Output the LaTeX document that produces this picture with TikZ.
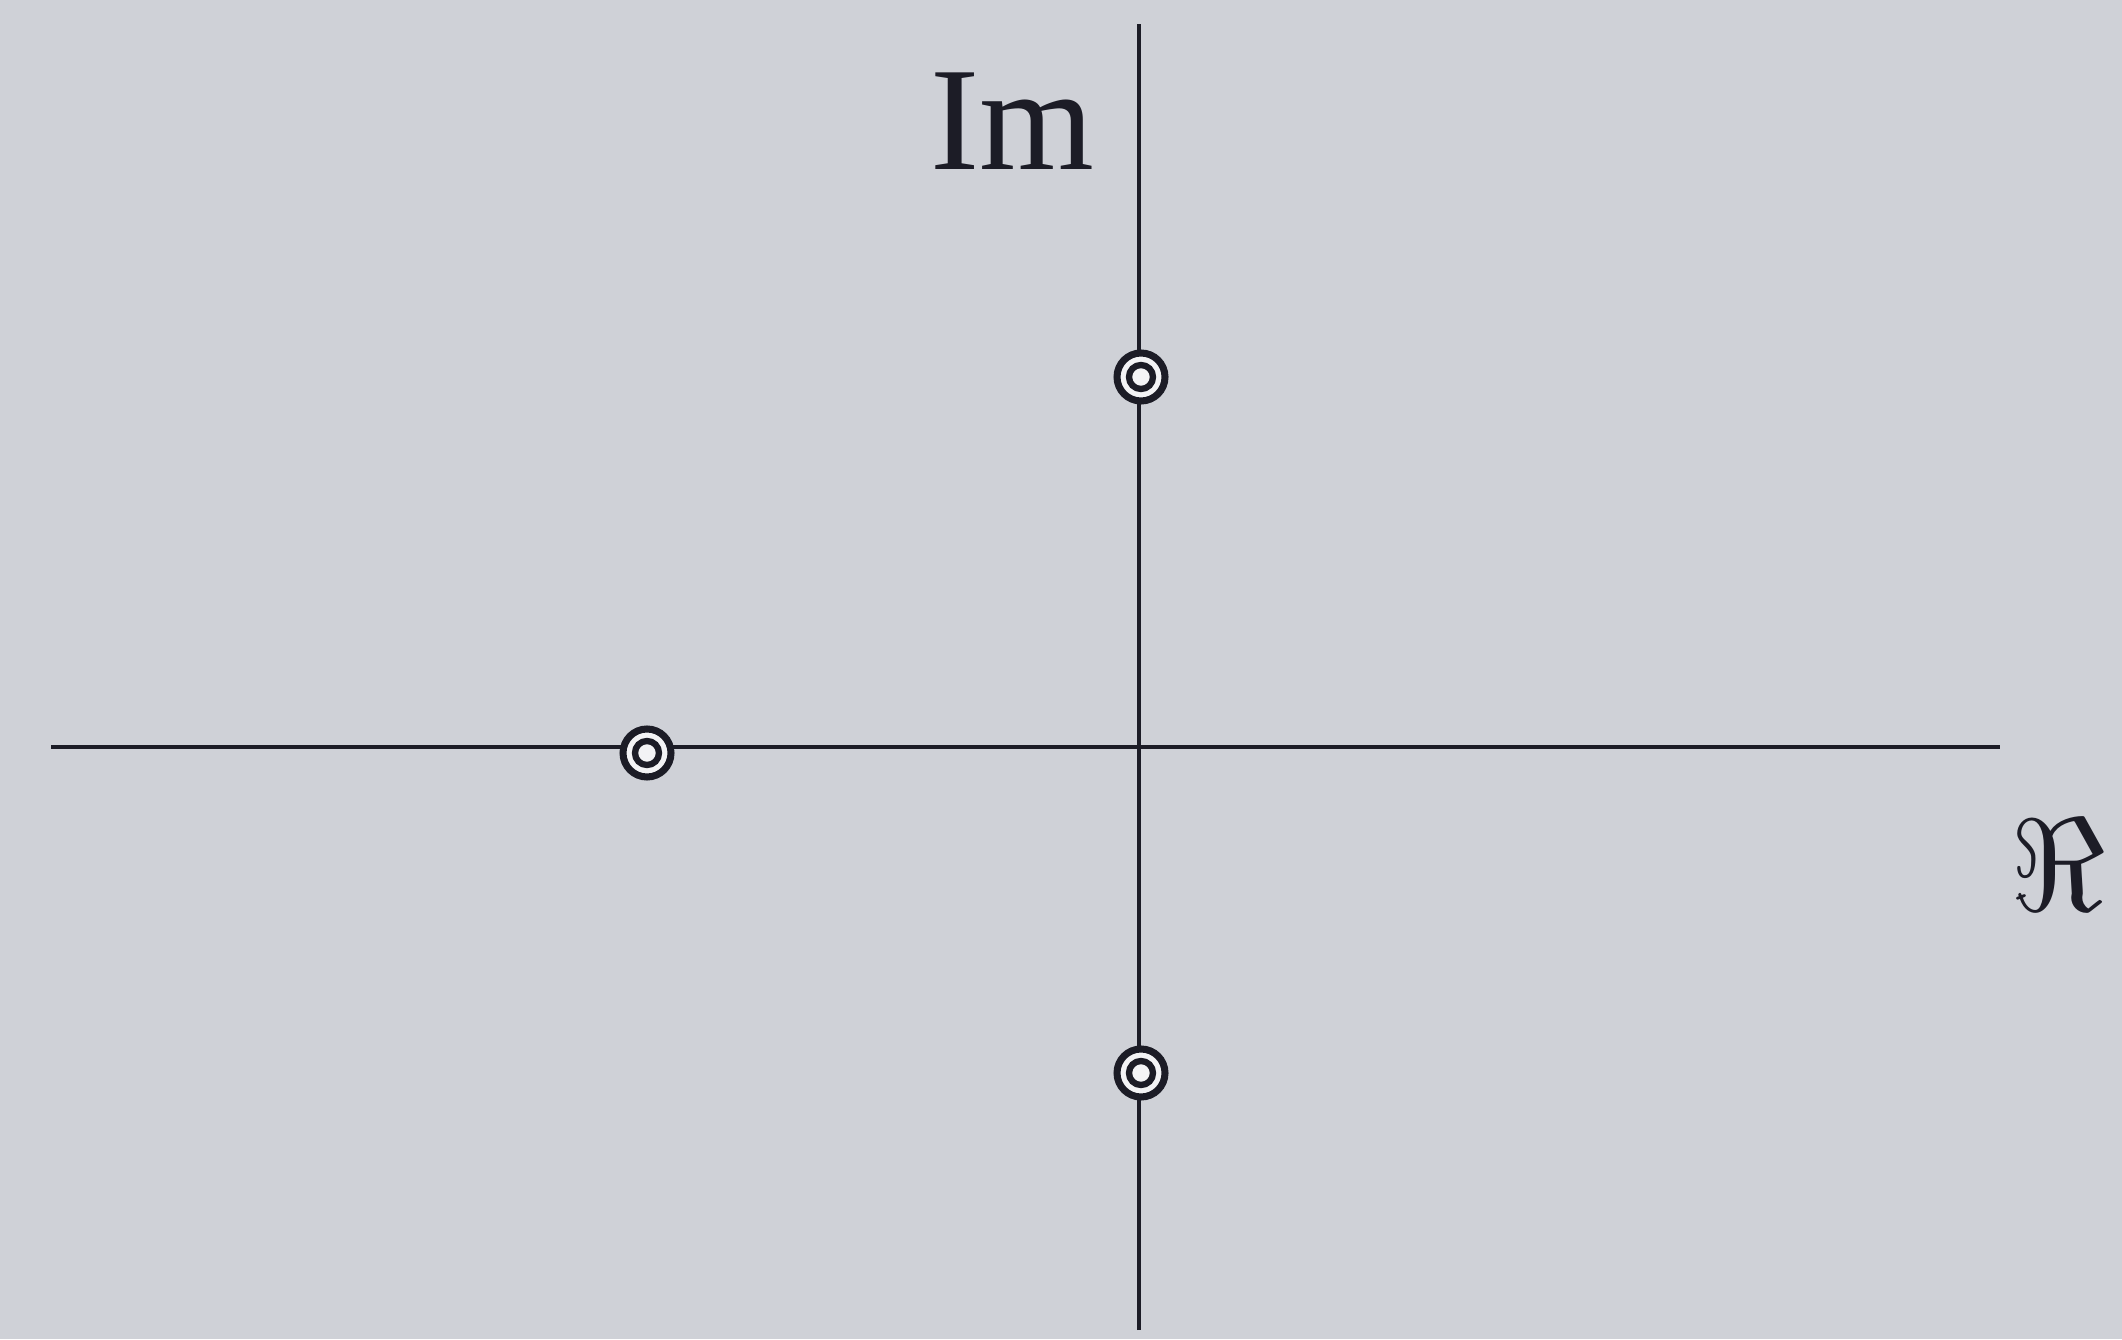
\documentclass[tikz,border=0pt]{standalone}
\usepackage{amsmath,amssymb}
\usepackage{fontspec}
\setmainfont{Liberation Serif}
\usepackage{xcolor}
\usepackage{tikz}
\usetikzlibrary{positioning}

\definecolor{paper}{RGB}{207,209,215}
\definecolor{ink}{RGB}{28,28,38}

\begin{document}
\begin{tikzpicture}[
    x=1cm,
    y=1cm,
    axis/.style={draw=ink, line width=0.95pt},
    pole/.style={circle, draw=ink, line width=2pt, fill=white!75!paper,
                 minimum size=0.48cm, inner sep=0pt,
                 path picture={\draw[ink, line width=1.8pt]
                   (path picture bounding box.center) circle (0.12cm);}},
    lbl/.style={inner sep=0pt, text=ink, font=\fontsize{42}{48}\selectfont},
]
\fill[paper] (0,0) rectangle (21.22,13.39);
\useasboundingbox (0,0) rectangle (21.22,13.39);

\coordinate (xl) at (0.51,5.92);
\coordinate (xr) at (20.00,5.92);
\coordinate (yb) at (11.39,0.09);
\coordinate (yt) at (11.39,13.15);

\draw[axis] (xl) -- (xr);
\draw[axis] (yb) -- (yt);

\node[pole] (zup)   at (11.41,9.62) {};
\node[pole] (zreal) at (6.47,5.86)  {};
\node[pole] (zdown) at (11.41,2.66) {};

\node[lbl, anchor=base] (im) at (10.12,11.69) {Im};
\node[lbl] (re) at (20.58,4.74) {\scalebox{1.5}{$\Re$}};
\end{tikzpicture}
\end{document}
